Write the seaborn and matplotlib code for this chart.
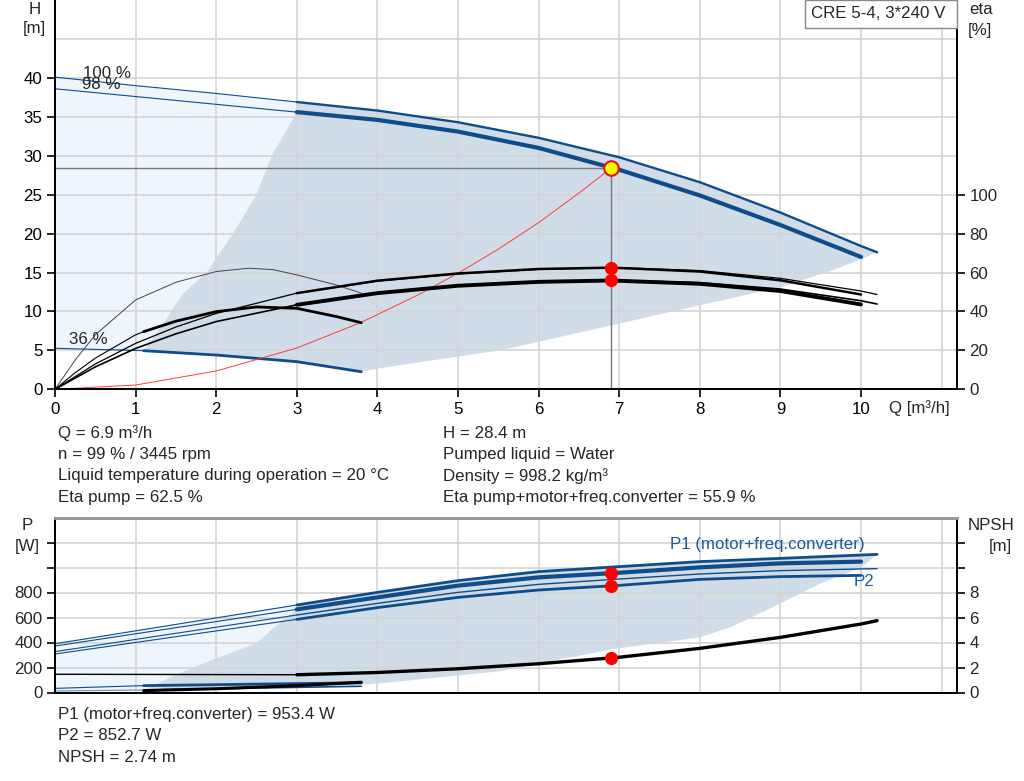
import numpy as np
import pandas as pd
import matplotlib
matplotlib.use("Agg")
import matplotlib.pyplot as plt
from matplotlib.patches import Rectangle
import seaborn as sns

# ---------------- data ----------------
# Head curves [m] vs flow Q [m3/h]
Q_H100 = [0, 1, 2, 3, 4, 5, 6, 7, 8, 9, 10, 10.2]
H_100 = [40.1, 39.0, 38.0, 36.9, 35.8, 34.3, 32.3, 29.8, 26.6, 22.7, 18.4, 17.6]
Q_H98 = [0, 1, 2, 3, 4, 5, 6, 7, 8, 9, 10]
H_98 = [38.6, 37.6, 36.6, 35.6, 34.6, 33.1, 31.0, 28.2, 24.9, 21.1, 17.0]
Q_H36 = [0, 1.1, 2, 3, 3.8]
H_36 = [5.27, 4.96, 4.4, 3.55, 2.26]

# system curve
Q_sys = [0, 1, 2, 3, 3.8, 4.5, 5, 5.5, 6, 6.5, 6.9]
H_sys = [0, 0.55, 2.35, 5.3, 8.6, 12.1, 14.9, 18.0, 21.4, 25.2, 28.4]

# efficiency curves [%]
Q_eta100 = [0, 0.5, 1, 1.5, 2, 3, 4, 5, 6, 7, 8, 9, 10, 10.2]
eta_pump_100 = [0, 13, 23.6, 32, 39, 49.4, 55.6, 59.3, 61.6, 62.5, 61, 57, 50.5, 48.7]
eta_tot_100 = [0, 11.5, 21, 28.5, 34.8, 43.4, 49.3, 53.1, 55.1, 55.9, 54.8, 51.5, 45.5, 43.8]
Q_eta98 = [3, 4, 5, 6, 6.9, 8, 9, 10]
eta_pump_98 = [49.4, 55.8, 59.5, 61.8, 62.5, 60.5, 56, 48.7]
eta_tot_98 = [43.4, 49.4, 53.2, 55.2, 55.9, 54.2, 50.5, 43.6]
Q_eta36p = [0, 0.25, 0.5, 1, 1.5, 2, 2.4, 2.7, 3, 3.5, 3.8]
eta_pump_36 = [0, 15, 28, 45.9, 55, 60.5, 62.2, 61.5, 58.8, 53.5, 49.4]
Q_eta36t = [0, 0.25, 0.5, 1, 1.1, 1.5, 2, 2.5, 3, 3.5, 3.8]
eta_tot_36 = [0, 8.5, 16, 28, 29.6, 35, 39.9, 42.3, 41.6, 37.3, 34.2]

# operating area (upper panel) boundaries
Q_area_low = [10.2, 10.0, 9.65, 9, 8, 6.9, 5.52, 4.28, 4.03, 3.8]
H_area_low = [17.6, 16.7, 15.3, 13.1, 10.8, 8.2, 5.0, 3.1, 2.7, 2.26]
Q_area_left = [1.32, 1.59, 1.88, 2.21, 2.5, 2.69, 3.0]
H_area_left = [8.05, 12.3, 15.0, 20.0, 25.0, 30.0, 35.6]

# power curves [W]
Q_P100 = [0, 3, 4, 5, 6, 7, 8, 9, 10.2]
P1_100 = [390, 700, 801, 895, 967, 1007, 1047, 1073, 1105]
P2_100 = [327, 620, 713, 801, 865, 908, 948, 975, 991]
Q_P98 = [0, 3, 4, 5, 6, 7, 8, 9, 10]
P1_98 = [372, 665, 761, 855, 921, 958, 1001, 1033, 1047]
P2_98 = [308, 585, 679, 761, 820, 857, 905, 927, 937]
Q_P36 = [0, 1.1, 3.8]
P1_36 = [33, 55, 78]
P2_36 = [12, 20, 50]

# NPSH [m]
Q_npsh = [0, 3, 4, 5, 6, 7, 8, 9, 10, 10.2]
NPSH = [1.46, 1.42, 1.6, 1.9, 2.3, 2.82, 3.53, 4.41, 5.48, 5.75]
Q_npsh36 = [1.1, 2, 3, 3.8]
NPSH_36 = [0.15, 0.3, 0.55, 0.82]

# operating area (lower panel) boundaries
Q_parea_low = [10.2, 10.0, 9.5, 9, 8.4, 8, 6.9, 5.52, 4.03, 3.8, 1.1]
P_parea_low = [1105, 1000, 873, 713, 527, 441, 345, 170, 73, 60, 20]
Q_parea_left = [1.54, 1.95, 2.5, 2.7, 2.85, 3.0]
P_parea_left = [153, 260, 393, 510, 590, 665]

# duty point
Q_duty = 6.9
H_duty = 28.4
eta_pump_duty = 62.5
eta_tot_duty = 55.9
P1_duty = 953.4
P2_duty = 852.7
NPSH_duty = 2.74

x_ticks = list(range(0, 11))
info_left = ["Q = 6.9 m³/h", "n = 99 % / 3445 rpm",
             "Liquid temperature during operation = 20 °C", "Eta pump = 62.5 %"]
info_right = ["H = 28.4 m", "Pumped liquid = Water", "Density = 998.2 kg/m³",
              "Eta pump+motor+freq.converter = 55.9 %"]
info_bottom = ["P1 (motor+freq.converter) = 953.4 W", "P2 = 852.7 W", "NPSH = 2.74 m"]

# ---------------- styling ----------------
sns.set_theme(style="white")
plt.rcParams["font.family"] = ["Liberation Sans", "DejaVu Sans"]
plt.rcParams["axes.axisbelow"] = "line"

BLUE = "#0f4c8a"
TBLUE = "#1d5a98"
DARK = "#d0dce8"
LIGHT = "#eef5fc"
GRID = "#d4d4d4"
FS = 12.2

W, Hh = 1024, 781
fig = plt.figure(figsize=(W / 100, Hh / 100), dpi=100)


def fx(px):
    return px / W


def fy(py):
    return 1 - py / Hh


def seg(ax, xs, ys, lo, hi, **kw):
    df = pd.DataFrame({"x": xs, "y": ys})
    df = df[(df.x >= lo) & (df.x <= hi)]
    sns.lineplot(data=df, x="x", y="y", ax=ax, sort=False, estimator=None, **kw)


def style_axes(ax):
    for s in ["left", "bottom", "right", "top"]:
        ax.spines[s].set_color("black")
        ax.spines[s].set_linewidth(1.3)
    ax.set_xlabel("")
    ax.set_ylabel("")


xr = (0, (957 - 55) / 80.6)

# ================= upper panel =================
ax1 = fig.add_axes([fx(55), fy(389.3), fx(957 - 55), 389.3 / Hh])
ax1.set_xlim(*xr)
ax1.set_ylim(0, 50)

# light area
poly_x = [q for q in Q_H100 if q <= 3] + [q for q in Q_H36[::-1] if q <= 3]
poly_y = [h for q, h in zip(Q_H100, H_100) if q <= 3] + [h for q, h in zip(Q_H36[::-1], H_36[::-1]) if q <= 3]
ax1.fill(poly_x, poly_y, color=LIGHT, lw=0, zorder=0.2)
# dark operating area
dx = [q for q in Q_H100 if q >= 3] + Q_area_low + [q for q in Q_H36[::-1] if 1.1 <= q < 3.8] + Q_area_left
dy = [h for q, h in zip(Q_H100, H_100) if q >= 3] + H_area_low + \
     [h for q, h in zip(Q_H36[::-1], H_36[::-1]) if 1.1 <= q < 3.8] + H_area_left
ax1.fill(dx, dy, color=DARK, lw=0, zorder=0.3)

# grid
for q in range(0, 12):
    ax1.axvline(q, color=GRID, lw=1.2, zorder=1)
for h in range(5, 50, 5):
    ax1.axhline(h, color=GRID, lw=1.2, zorder=1)

# duty lines
ax1.plot([0, Q_duty], [H_duty, H_duty], color="#777777", lw=1, zorder=1.6)
ax1.plot([Q_duty, Q_duty], [0, H_duty], color="#777777", lw=1, zorder=1.6)

# head curves
seg(ax1, Q_H100, H_100, 0, 3, color=BLUE, lw=0.8)
seg(ax1, Q_H100, H_100, 3, 10.2, color=BLUE, lw=1.7)
seg(ax1, Q_H98, H_98, 0, 3, color=BLUE, lw=0.8)
seg(ax1, Q_H98, H_98, 3, 10, color=BLUE, lw=3.0)
seg(ax1, Q_H36, H_36, 0, 1.1, color=BLUE, lw=0.8)
seg(ax1, Q_H36, H_36, 1.1, 3.8, color=BLUE, lw=2.0)
seg(ax1, Q_sys, H_sys, 0, 7, color="#ff3b3b", lw=0.7)

sns.scatterplot(x=[Q_duty], y=[H_duty], ax=ax1, s=110, color="#ffff00",
                edgecolor="#ee1111", linewidth=1.5, zorder=6)

ax1.set_xticks(x_ticks)
ax1.set_xticklabels([str(t) for t in x_ticks], fontsize=FS)
ax1.set_yticks(range(0, 45, 5))
ax1.set_yticklabels([str(t) for t in range(0, 45, 5)], fontsize=FS)
ax1.tick_params(axis="both", direction="out", length=6, width=1.2, color="black",
                labelcolor="black", pad=3, bottom=True, left=True)
style_axes(ax1)
ax1.spines["top"].set_visible(False)

ax1e = ax1.twinx()
ax1e.set_ylim(0, 200)
ax1e.set_xlim(*xr)
seg(ax1e, Q_eta36p, eta_pump_36, 0, 3.8, color="#444444", lw=0.7)
seg(ax1e, Q_eta36t, eta_tot_36, 0, 1.1, color="black", lw=0.8)
seg(ax1e, Q_eta36t, eta_tot_36, 1.1, 3.8, color="black", lw=2.0)
seg(ax1e, Q_eta100, eta_pump_100, 0, 10.2, color="black", lw=0.9)
seg(ax1e, Q_eta100, eta_tot_100, 0, 10.2, color="black", lw=1.2)
seg(ax1e, Q_eta98, eta_pump_98, 3, 10, color="black", lw=1.8)
seg(ax1e, Q_eta98, eta_tot_98, 3, 10, color="black", lw=2.8)
sns.scatterplot(x=[Q_duty, Q_duty], y=[eta_pump_duty, eta_tot_duty], ax=ax1e, s=90,
                color="#ff0000", edgecolor="#ff0000", linewidth=0, zorder=6)
ax1e.set_yticks(range(0, 101, 20))
ax1e.set_yticklabels([str(t) for t in range(0, 101, 20)], fontsize=FS)
ax1e.tick_params(axis="y", direction="out", length=6, width=1.2, color="black", pad=3, right=True)
style_axes(ax1e)
ax1e.spines["top"].set_visible(False)
ax1e.grid(False)

# curve labels (overlapping as in the original)
ax1.text(0.35, 40.6, "100 %", fontsize=FS, va="center", ha="left", zorder=7)
ax1.text(0.34, 39.1, "98 %", fontsize=FS, va="center", ha="left", zorder=7)
ax1.text(0.17, 6.4, "36 %", fontsize=FS, va="center", ha="left", zorder=7)

# ================= lower panel =================
ax2 = fig.add_axes([fx(55), fy(692.5), fx(957 - 55), 175 / Hh])
ax2.set_xlim(*xr)
ax2.set_ylim(0, 1400)

lpx = [q for q in Q_P100 if q <= 3] + [3, 1.1, 0]
lpy = [p for q, p in zip(Q_P100, P1_100) if q <= 3] + [45, 20, 12]
ax2.fill(lpx, lpy, color=LIGHT, lw=0, zorder=0.2)
dpx = [q for q in Q_P100 if q >= 3] + Q_parea_low + Q_parea_left
dpy = [p for q, p in zip(Q_P100, P1_100) if q >= 3] + P_parea_low + P_parea_left
ax2.fill(dpx, dpy, color=DARK, lw=0, zorder=0.3)

for q in range(0, 12):
    ax2.axvline(q, color=GRID, lw=1.2, zorder=1)
for p in range(200, 1400, 200):
    ax2.axhline(p, color=GRID, lw=1.2, zorder=1)

seg(ax2, Q_P100, P1_100, 0, 3, color=BLUE, lw=0.8)
seg(ax2, Q_P100, P1_100, 3, 10.2, color=BLUE, lw=2.0)
seg(ax2, Q_P98, P1_98, 0, 3, color=BLUE, lw=0.8)
seg(ax2, Q_P98, P1_98, 3, 10, color=BLUE, lw=3.0)
seg(ax2, Q_P100, P2_100, 0, 3, color=BLUE, lw=0.8)
seg(ax2, Q_P100, P2_100, 3, 10.2, color=BLUE, lw=1.0)
seg(ax2, Q_P98, P2_98, 0, 3, color=BLUE, lw=0.8)
seg(ax2, Q_P98, P2_98, 3, 10, color=BLUE, lw=2.0)
seg(ax2, Q_P36, P1_36, 0, 1.1, color=BLUE, lw=0.8)
seg(ax2, Q_P36, P1_36, 1.1, 3.8, color=BLUE, lw=2.0)
seg(ax2, Q_P36, P2_36, 0, 1.1, color="#6b8db5", lw=0.8)
seg(ax2, Q_P36, P2_36, 1.1, 3.8, color=BLUE, lw=1.2)
sns.scatterplot(x=[Q_duty, Q_duty], y=[P1_duty, P2_duty], ax=ax2, s=90,
                color="#ff0000", edgecolor="#ff0000", linewidth=0, zorder=6)

ax2.set_xticks(x_ticks)
ax2.set_xticklabels([])
ax2.set_yticks(range(0, 1201, 200))
ax2.set_yticklabels(["0", "200", "400", "600", "800", "", ""], fontsize=FS)
ax2.tick_params(axis="y", direction="out", length=6, width=1.2, color="black", pad=3, left=True)
ax2.tick_params(axis="x", length=0)
style_axes(ax2)
ax2.spines["top"].set_color("#9a9a9a")
ax2.spines["top"].set_linewidth(2)

ax2n = ax2.twinx()
ax2n.set_ylim(0, 14)
ax2n.set_xlim(*xr)
seg(ax2n, Q_npsh, NPSH, 0, 3, color="black", lw=1.0)
seg(ax2n, Q_npsh, NPSH, 3, 10.2, color="black", lw=2.4)
seg(ax2n, Q_npsh36, NPSH_36, 1.1, 3.8, color="black", lw=2.2)
sns.scatterplot(x=[Q_duty], y=[NPSH_duty], ax=ax2n, s=90, color="#ff0000",
                edgecolor="#ff0000", linewidth=0, zorder=6)
ax2n.set_yticks(range(0, 13, 2))
ax2n.set_yticklabels(["0", "2", "4", "6", "8", "", ""], fontsize=FS)
ax2n.tick_params(axis="y", direction="out", length=6, width=1.2, color="black", pad=3, right=True)
style_axes(ax2n)
ax2n.spines["top"].set_color("#9a9a9a")
ax2n.spines["top"].set_linewidth(2)
ax2n.grid(False)

ax2.text(10.05, 1185, "P1 (motor+freq.converter)", color=TBLUE, fontsize=FS,
         ha="right", va="center", zorder=7)
ax2.text(10.16, 890, "P2", color=TBLUE, fontsize=FS, ha="right", va="center", zorder=7)

# ================= texts outside axes =================
fig.text(fx(35), fy(9), "H", fontsize=FS, ha="center", va="center")
fig.text(fx(34), fy(29), "[m]", fontsize=FS, ha="center", va="center")
fig.text(fx(981), fy(10), "eta", fontsize=FS, ha="center", va="center")
fig.text(fx(980), fy(30), "[%]", fontsize=FS, ha="center", va="center")
fig.text(fx(889), fy(408), "Q [m³/h]", fontsize=FS, ha="left", va="center")

fig.text(fx(27), fy(526), "P", fontsize=FS, ha="center", va="center")
fig.text(fx(27), fy(547), "[W]", fontsize=FS, ha="center", va="center")
fig.text(fx(991), fy(526), "NPSH", fontsize=FS, ha="center", va="center")
fig.text(fx(1000), fy(547), "[m]", fontsize=FS, ha="center", va="center")

fig.patches.append(Rectangle((fx(805), fy(28)), fx(957 - 805), 28 / Hh,
                             transform=fig.transFigure, facecolor="white",
                             edgecolor="#888888", lw=1, zorder=10))
fig.text(fx(811), fy(14), "CRE 5-4, 3*240 V", fontsize=FS, ha="left", va="center", zorder=11)

for i, t in enumerate(info_left):
    fig.text(fx(58), fy(433 + i * 21.5), t, fontsize=FS, ha="left", va="center")
for i, t in enumerate(info_right):
    fig.text(fx(443), fy(433 + i * 21.5), t, fontsize=FS, ha="left", va="center")
for i, t in enumerate(info_bottom):
    fig.text(fx(58), fy(715 + i * 21), t, fontsize=FS, ha="left", va="center")

fig.savefig("out.png", dpi=100)
